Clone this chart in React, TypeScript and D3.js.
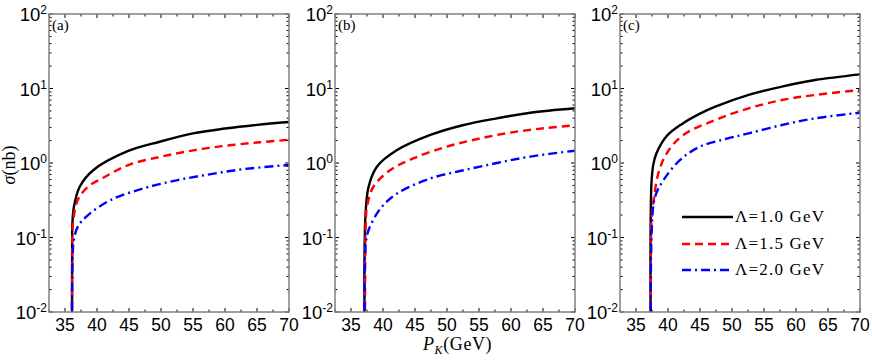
import React from 'react'
import * as d3 from 'd3'

// cross sections, [P_K in GeV, sigma in nb]
const panelA_L10 = [[36.1, 0.001], [36.12, 0.1], [36.15, 0.15], [36.4, 0.26], [37.3, 0.48], [39.4, 0.8], [44.6, 1.42], [49.8, 1.93], [55, 2.5], [60, 2.9], [65, 3.25], [70, 3.55]]
const panelA_L15 = [[36.1, 0.001], [36.15, 0.1], [36.25, 0.155], [37, 0.32], [38.6, 0.48], [41.2, 0.65], [44.9, 0.94], [50.1, 1.22], [55.3, 1.49], [60.5, 1.72], [65.5, 1.9], [70, 2.05]]
const panelA_L20 = [[36.1, 0.001], [36.2, 0.06], [36.4, 0.093], [37, 0.14], [38.6, 0.2], [42.2, 0.32], [47.4, 0.46], [52.6, 0.59], [57.8, 0.71], [63, 0.83], [70, 0.94]]

const panelB_L10 = [[37.2, 0.001], [37.25, 0.19], [37.75, 0.48], [39.05, 0.89], [42.2, 1.49], [47.4, 2.38], [52.6, 3.24], [57.8, 3.98], [63, 4.73], [70, 5.42]]
const panelB_L15 = [[37.2, 0.001], [37.3, 0.15], [37.5, 0.26], [38.5, 0.48], [41.1, 0.8], [44.8, 1.16], [50, 1.66], [55.2, 2.14], [60.4, 2.6], [65.6, 2.95], [70, 3.2]]
const panelB_L20 = [[37.2, 0.001], [37.3, 0.08], [37.75, 0.126], [39.6, 0.245], [42.2, 0.39], [47.4, 0.62], [52.6, 0.8], [57.8, 1.0], [63, 1.22], [70, 1.46]]

const panelC_L10 = [[37.35, 0.001], [37.4, 0.5], [37.7, 0.95], [38.2, 1.35], [39.8, 2.3], [42.2, 3.35], [45, 4.6], [47.4, 5.7], [52.6, 8.2], [57.8, 10.6], [63, 13.0], [70, 15.5]]
const panelC_L15 = [[37.35, 0.001], [37.45, 0.2], [37.7, 0.29], [38.5, 0.73], [39.8, 1.35], [42.4, 2.38], [47.4, 3.78], [52.6, 5.42], [57.8, 7.0], [63, 8.2], [70, 9.55]]
const panelC_L20 = [[37.35, 0.001], [37.45, 0.12], [37.97, 0.35], [39.3, 0.59], [41.9, 1.1], [45, 1.66], [49, 2.1], [52.6, 2.5], [57.8, 3.24], [63, 3.98], [70, 4.73]]

const panelNames = ['(a)', '(b)', '(c)']
const panelData = [
  [panelA_L10, panelA_L15, panelA_L20],
  [panelB_L10, panelB_L15, panelB_L20],
  [panelC_L10, panelC_L15, panelC_L20],
]
const legendLabels = ['\u039b=1.0 GeV', '\u039b=1.5 GeV', '\u039b=2.0 GeV']
const xTicks = [35, 40, 45, 50, 55, 60, 65, 70]
const yExponents = [-2, -1, 0, 1, 2]

const seriesStyle = [
  { color: '#000000', dash: 'none' },
  { color: '#ff0000', dash: '8,5' },
  { color: '#0000ff', dash: '9,4,2,4' },
]

const panelLeft = [49, 335, 620]
const plotW = 240
const top = 14
const plotH = 298
const sans = "'Liberation Sans', Arial, sans-serif"
const serif = "'Liberation Serif', 'Times New Roman', serif"

function Panel({ idx }: { idx: number }) {
  const left = panelLeft[idx]
  const x = d3.scaleLinear().domain([32.5, 70]).range([left, left + plotW])
  const y = d3.scaleLog().domain([0.01, 100]).range([top + plotH, top])
  const line = d3.line<number[]>().x(d => x(d[0])).y(d => y(d[1])).curve(d3.curveCatmullRom.alpha(0.5))
  const minorX = d3.range(32.5, 70.01, 2.5).filter(v => v % 5 !== 0)
  const minorY: number[] = []
  for (let e = -2; e < 2; e++) for (let m = 2; m < 10; m++) minorY.push(m * Math.pow(10, e))
  const bottom = top + plotH
  const clipId = 'clip' + idx
  return (
    <g>
      <defs>
        <clipPath id={clipId}>
          <rect x={left} y={top} width={plotW} height={plotH} />
        </clipPath>
      </defs>
      <g clipPath={`url(#${clipId})`}>
        {panelData[idx].map((s, i) => (
          <path key={i} d={line(s) || ''} fill="none" stroke={seriesStyle[i].color}
            strokeWidth={2.4} strokeDasharray={seriesStyle[i].dash} />
        ))}
      </g>
      {xTicks.map(t => (
        <g key={'x' + t}>
          <line x1={x(t)} x2={x(t)} y1={bottom} y2={bottom - 4} stroke="#000" />
          <line x1={x(t)} x2={x(t)} y1={top} y2={top + 4} stroke="#000" />
          <text x={x(t)} y={bottom + 19} textAnchor="middle" fontFamily={sans} fontSize={17.5}>{t}</text>
        </g>
      ))}
      {minorX.map(t => (
        <g key={'mx' + t}>
          <line x1={x(t)} x2={x(t)} y1={bottom} y2={bottom - 2.5} stroke="#000" />
          <line x1={x(t)} x2={x(t)} y1={top} y2={top + 2.5} stroke="#000" />
        </g>
      ))}
      {yExponents.map(e => (
        <g key={'y' + e}>
          <line x1={left} x2={left + 4} y1={y(Math.pow(10, e))} y2={y(Math.pow(10, e))} stroke="#000" />
          <line x1={left + plotW} x2={left + plotW - 4} y1={y(Math.pow(10, e))} y2={y(Math.pow(10, e))} stroke="#000" />
          <text x={left - 2} y={y(Math.pow(10, e)) + 7} textAnchor="end" fontFamily={sans} fontSize={18.5}>
            10<tspan dy={-7} fontSize={12}>{e}</tspan>
          </text>
        </g>
      ))}
      {minorY.map(v => (
        <g key={'my' + v}>
          <line x1={left} x2={left + 2.5} y1={y(v)} y2={y(v)} stroke="#000" />
          <line x1={left + plotW} x2={left + plotW - 2.5} y1={y(v)} y2={y(v)} stroke="#000" />
        </g>
      ))}
      <rect x={left} y={top} width={plotW} height={plotH} fill="none" stroke="#808080" strokeWidth={1.5} />
      <text x={left + 3} y={top + 16} fontFamily={serif} fontSize={15}>{panelNames[idx]}</text>
    </g>
  )
}

function Legend() {
  const x0 = 682
  const x1 = 733
  const rows = [217, 244, 270]
  return (
    <g>
      {legendLabels.map((lab, i) => (
        <g key={lab}>
          <line x1={x0} x2={x1} y1={rows[i]} y2={rows[i]} stroke={seriesStyle[i].color}
            strokeWidth={2.4} strokeDasharray={seriesStyle[i].dash} />
          <text x={x1 + 2} y={rows[i] + 5} fontFamily={serif} fontSize={17} letterSpacing={1.2}>{lab}</text>
        </g>
      ))}
    </g>
  )
}

export default function App() {
  return (
    <svg width={872} height={360} style={{ position: 'absolute', left: 0, top: 0, background: '#fff' }}>
      <rect width={872} height={360} fill="#fff" />
      {[0, 1, 2].map(i => <Panel key={i} idx={i} />)}
      <Legend />
      <text x={423} y={350} fontFamily={serif} fontSize={18} letterSpacing={0.6}>
        <tspan fontStyle="italic">P</tspan>
        <tspan fontStyle="italic" fontSize={12} dy={4}>K</tspan>
        <tspan dy={-4}>(GeV)</tspan>
      </text>
      <text transform="translate(15,165) rotate(-90)" textAnchor="middle" fontFamily={serif} fontSize={18}>
        <tspan fontStyle="italic">σ</tspan>(nb)
      </text>
    </svg>
  )
}
